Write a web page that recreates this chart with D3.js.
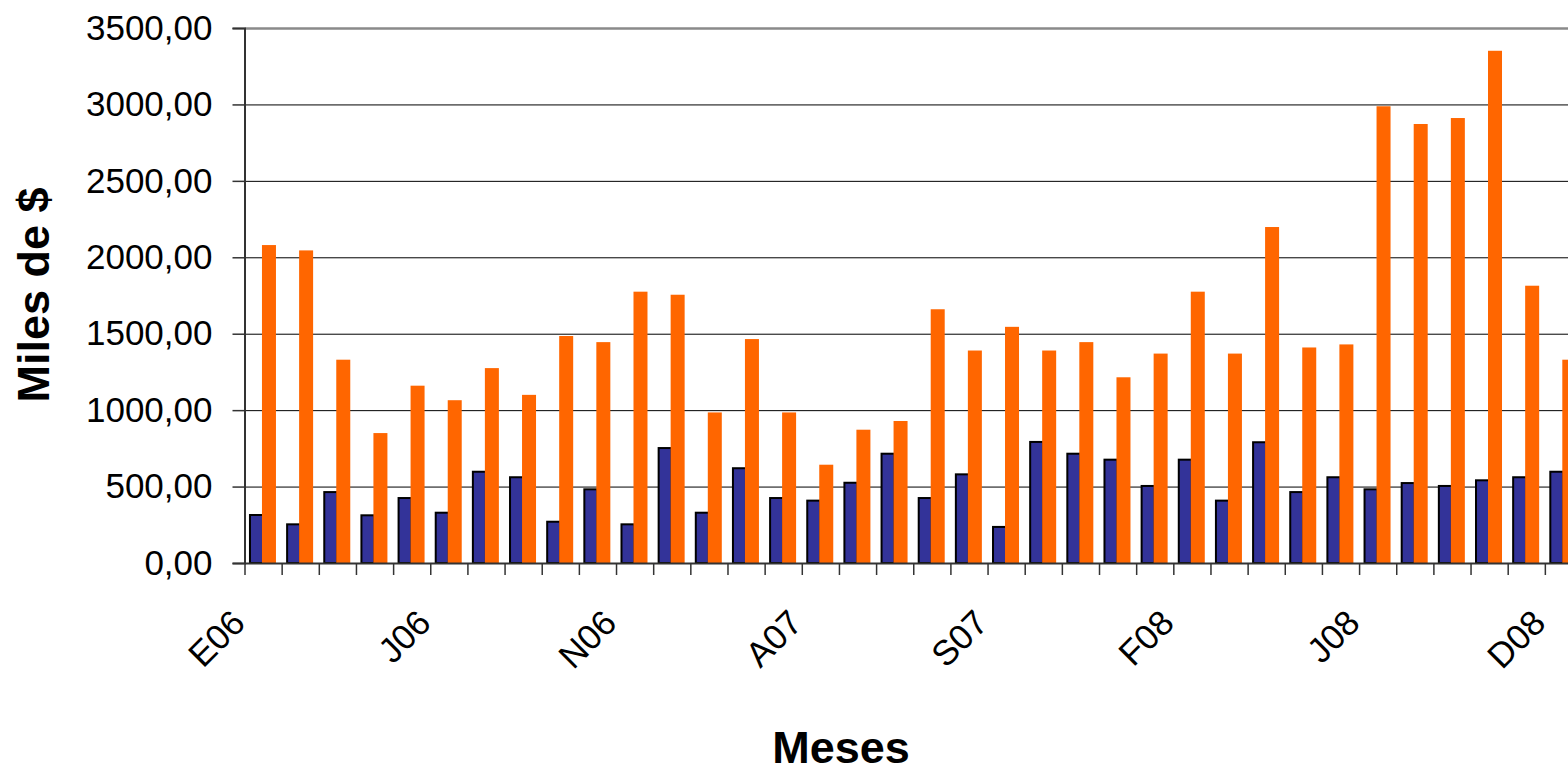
<!DOCTYPE html>
<html>
<head>
<meta charset="utf-8">
<script src="https://cdn.jsdelivr.net/npm/d3@7"></script>
<style>
  body { margin: 0; background: #fff; }
  text { font-family: 'Liberation Sans', Arial, sans-serif; }
</style>
</head>
<body>
<div id="chart"></div>
<script>
// Months, Spanish initials (E = enero ... D = diciembre)
let meses = [
  'E06', 'F06', 'M06', 'A06', 'M06', 'J06', 'J06', 'A06', 'S06', 'O06', 'N06', 'D06',
  'E07', 'F07', 'M07', 'A07', 'M07', 'J07', 'J07', 'A07', 'S07', 'O07', 'N07', 'D07',
  'E08', 'F08', 'M08', 'A08', 'M08', 'J08', 'J08', 'A08', 'S08', 'O08', 'N08', 'D08'
]

// blue series
let serie1 = [
  314, 253, 464, 312, 425, 329, 597, 561, 270, 482, 253, 752,
  329, 620, 425, 408, 525, 715, 425, 580, 236, 792, 715, 676,
  504, 676, 408, 790, 464, 561, 482, 523, 504, 541, 561, 597
]

// orange series
let serie2 = [
  2080, 2045, 1330, 850, 1160, 1065, 1275, 1100, 1485, 1445, 1775, 1755,
  985, 1465, 985, 643, 872, 929, 1660, 1390, 1545, 1390, 1445, 1215,
  1370, 1775, 1370, 2198, 1410, 1430, 2988, 2872, 2911, 3351, 1814, 1330
]

let yTicks = [0, 500, 1000, 1500, 2000, 2500, 3000, 3500]
let labelEvery = 5

let margin = { top: 28, left: 244.5 }
let width = 1337.5
let height = 535

let svg = d3
  .select('#chart')
  .append('svg')
  .attr('width', 1568)
  .attr('height', 774)

let g = svg
  .append('g')
  .attr('transform', 'translate(' + margin.left + ',' + margin.top + ')')

let locale = d3.formatLocale({ decimal: ',', thousands: '', grouping: [3], currency: ['$', ''] })
let fmt = locale.format('.2f')

let idx = d3.range(meses.length)

let xPositionScale = d3.scaleBand().domain(idx).range([0, width])
let xEdgeScale = d3.scaleLinear().domain([0, meses.length]).range([0, width])
let yPositionScale = d3.scaleLinear().domain([0, 3500]).range([height, 0])

// two bars inside each month
let xInner = d3
  .scaleBand()
  .domain(['s1', 's2'])
  .range([0, xPositionScale.bandwidth()])
  .paddingInner(0)
  .paddingOuter(0.429)
  .align(0.4)

// gridlines
g.append('g')
  .attr('class', 'grid')
  .call(d3.axisLeft(yPositionScale).tickValues(yTicks).tickSize(-width).tickFormat(''))
  .call(s => s.select('.domain').remove())
  .call(s => s.selectAll('line').attr('stroke', '#000').attr('stroke-width', 1))
  .call(s => s.selectAll('.tick:last-of-type line').attr('stroke', '#8a8a8a').attr('stroke-width', 2.5))

let rows = idx.map(i => ({ i: i, a: serie1[i], b: serie2[i] }))

// blue bars with black outline
g.selectAll('.bar-a')
  .data(rows)
  .enter()
  .append('rect')
  .attr('class', 'bar-a')
  .attr('x', d => xPositionScale(d.i) + xInner('s1') + 1)
  .attr('y', d => yPositionScale(d.a))
  .attr('width', xInner.bandwidth())
  .attr('height', d => height - yPositionScale(d.a))
  .attr('fill', '#333399')
  .attr('stroke', '#000')
  .attr('stroke-width', 2)

// orange bars on top
g.selectAll('.bar-b')
  .data(rows)
  .enter()
  .append('rect')
  .attr('class', 'bar-b')
  .attr('x', d => xPositionScale(d.i) + xInner('s2'))
  .attr('y', d => yPositionScale(d.b))
  .attr('width', xInner.bandwidth() + 1)
  .attr('height', d => height - yPositionScale(d.b))
  .attr('fill', '#ff6600')

// y axis
let yAxis = d3
  .axisLeft(yPositionScale)
  .tickValues(yTicks)
  .tickSize(12)
  .tickPadding(20)
  .tickFormat(fmt)

g.append('g')
  .attr('class', 'axis y-axis')
  .call(yAxis)
  .call(s => s.select('.domain').attr('stroke', '#333').attr('stroke-width', 2))
  .call(s => s.selectAll('line').attr('stroke', '#333').attr('stroke-width', 1.5))
  .call(s => s.selectAll('text').attr('font-size', 35).attr('fill', '#000'))

// x axis: ticks on month boundaries
let xAxis = d3
  .axisBottom(xEdgeScale)
  .tickValues(d3.range(meses.length + 1))
  .tickSize(12)
  .tickSizeOuter(0)
  .tickFormat('')

g.append('g')
  .attr('class', 'axis x-axis')
  .attr('transform', 'translate(0,' + height + ')')
  .call(xAxis)
  .call(s => s.select('.domain').attr('stroke', '#333').attr('stroke-width', 2))
  .call(s => s.selectAll('line').attr('stroke', '#333').attr('stroke-width', 1.5))

// rotated month labels, every fifth month
g.selectAll('.mes')
  .data(idx.filter(i => i % labelEvery === 0))
  .enter()
  .append('text')
  .attr('class', 'mes')
  .attr('text-anchor', 'end')
  .attr('font-size', 35)
  .attr('transform', d => 'translate(' + (xPositionScale(d) + xPositionScale.bandwidth() / 2 - 16) + ',' + (height + 62) + ') rotate(-45)')
  .text(d => meses[d])

// axis titles
svg.append('text')
  .attr('text-anchor', 'middle')
  .attr('font-size', 45)
  .attr('font-weight', 'bold')
  .attr('transform', 'translate(49,295) rotate(-90)')
  .text('Miles de $')

svg.append('text')
  .attr('text-anchor', 'middle')
  .attr('font-size', 45)
  .attr('font-weight', 'bold')
  .attr('x', 841)
  .attr('y', 763)
  .text('Meses')
</script>
</body>
</html>
